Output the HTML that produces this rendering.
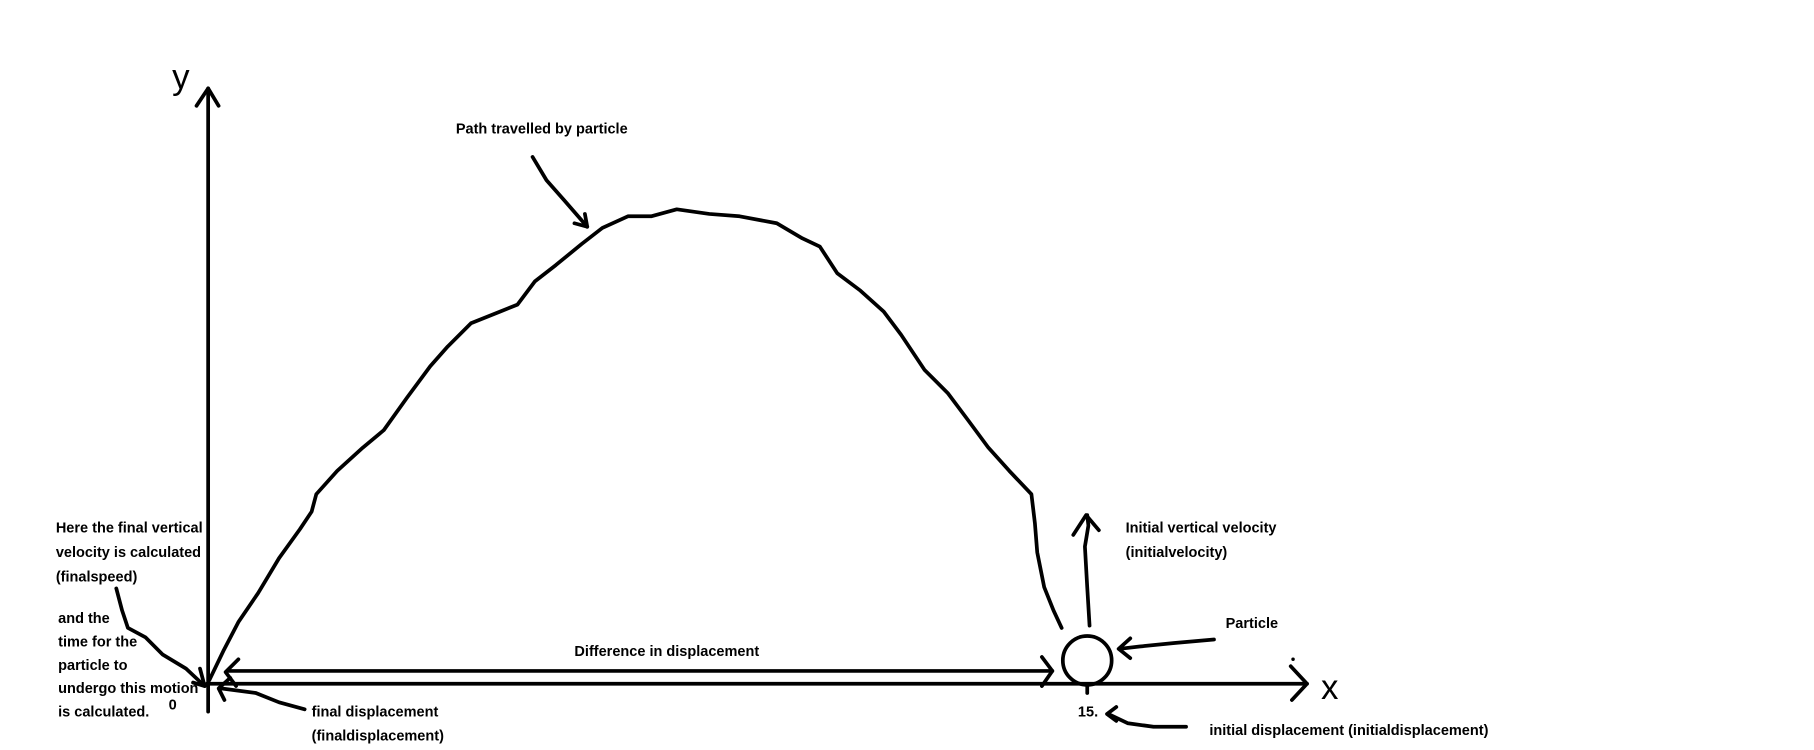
<!DOCTYPE html>
<html><head><meta charset="utf-8"><style>html,body{margin:0;padding:0;background:#fff}svg{display:block}</style></head>
<body>
<svg width="1814" height="750" viewBox="0 0 1560 645" preserveAspectRatio="none" xmlns="http://www.w3.org/2000/svg">
<g fill="none" stroke="#000" stroke-width="3.2" stroke-linecap="round" stroke-linejoin="round">
<line x1="179" y1="76" x2="179" y2="612"/>
<polyline points="169,91 179,76 188,91"/>
<line x1="178" y1="588" x2="1124" y2="588"/>
<polyline points="1110,573 1124,588 1111,602"/>
<line x1="196" y1="577" x2="905" y2="577"/>
<polyline points="205,567 194,578 203,590"/>
<polyline points="896,565 905,577 896,590"/>
<circle cx="935" cy="568" r="21"/>
<line x1="935" y1="589" x2="935" y2="596"/>
<path d="M180,585 L192,560 L205,535 L222,510 L240,480 L258,455 L268,440 L272,425 L290,405 L312,385 L330,370 L350,342 L370,315 L385,298 L405,278 L430,268 L445,262 L460,242 L478,228 L500,210 L518,196 L540,186 L560,186 L582,180 L610,184 L636,186 L668,192 L690,205 L705,212 L720,235 L740,250 L760,268 L775,288 L795,318 L815,338 L833,362 L850,385 L868,405 L887,425 L890,450 L892,475 L898,505 L906,525 L913,540"/>
<path d="M937,538 L935,505 L933,470 L936,452 L935,443"/>
<polyline points="923,460 934,443 945,456"/>
<path d="M458,135 L470,155 L485,172 L505,195"/>
<polyline points="494,192 505,195 503,184"/>
<path d="M1044,550 L1010,553 L980,556 L963,558"/>
<polyline points="972,549 962,558 972,566"/>
<path d="M1020,625 L992,625 L970,622 L953,614"/>
<polyline points="960,608 952,614 960,620"/>
<path d="M100,506 L105,525 L110,540 L125,548 L140,563 L160,575 L176,590"/>
<polyline points="172,575 176,590 166,587"/>
<path d="M262,610 L240,604 L220,596 L190,592"/>
<polyline points="198,583 188,592 193,602"/>
</g>
<circle cx="1112" cy="567" r="1.5" fill="#000"/>
<g font-family="Liberation Sans, sans-serif" font-weight="bold" font-size="12.5" fill="#000">
<text x="392" y="115">Path travelled by particle</text>
<text x="48" y="458">Here the final vertical</text>
<text x="48" y="479">velocity is calculated</text>
<text x="48" y="500">(finalspeed)</text>
<text x="50" y="536">and the</text>
<text x="50" y="556">time for the</text>
<text x="50" y="576">particle to</text>
<text x="50" y="596">undergo this motion</text>
<text x="50" y="616">is calculated.</text>
<text x="145" y="610">0</text>
<text x="494" y="564">Difference in displacement</text>
<text x="268" y="616">final displacement</text>
<text x="268" y="637">(finaldisplacement)</text>
<text x="968" y="458">Initial vertical velocity</text>
<text x="968" y="479">(initialvelocity)</text>
<text x="1054" y="540">Particle</text>
<text x="927" y="616">15.</text>
<text x="1040" y="632">initial displacement (initialdisplacement)</text>
</g>
<g font-family="Liberation Sans, sans-serif" font-size="30" fill="#000">
<text x="148" y="76">y</text>
<text x="1136" y="601">x</text>
</g>
</svg>
</body></html>
